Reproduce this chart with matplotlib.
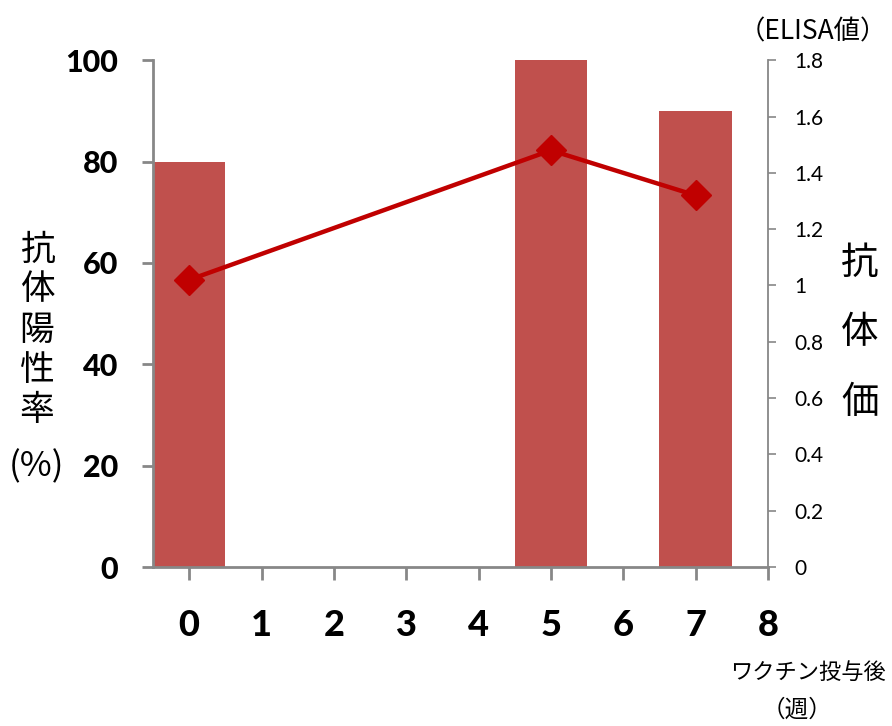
import matplotlib
matplotlib.use("Agg")
import matplotlib.pyplot as plt

# data
weeks = [0, 5, 7]
positive_rate = [80, 100, 90]        # %, bars (left axis)
elisa_value = [1.02, 1.48, 1.32]     # ELISA value, line (right axis)
x_ticks = [0, 1, 2, 3, 4, 5, 6, 7, 8]
left_ticks = [0, 20, 40, 60, 80, 100]
right_ticks = [0, 0.2, 0.4, 0.6, 0.8, 1, 1.2, 1.4, 1.6, 1.8]
right_tick_labels = ["0", "0.2", "0.4", "0.6", "0.8", "1", "1.2", "1.4", "1.6", "1.8"]

jp = ["Noto Sans CJK JP", "DejaVu Sans"]
num = ["Lato", "DejaVu Sans"]
spine_gray = "#878787"

fig = plt.figure(figsize=(8.92, 7.26), dpi=100)
ax = fig.add_axes([0.1715, 0.219, 0.861 - 0.1715, 0.917 - 0.219])

ax.bar(weeks, positive_rate, width=1.0, color="#C0504D", zorder=2)
ax.set_xlim(-0.5, 8)
ax.set_ylim(0, 100)
ax.set_xticks(x_ticks)
ax.set_yticks(left_ticks)
ax.set_xticklabels([str(t) for t in x_ticks], fontfamily=num, fontweight="black", fontsize=26)
ax.set_yticklabels([str(t) for t in left_ticks], fontfamily=num, fontweight="black", fontsize=22)
ax.tick_params(axis="x", direction="out", length=9, width=2, color=spine_gray, pad=21)
ax.tick_params(axis="y", direction="out", length=8, width=2, color=spine_gray, pad=17)

for side in ["top", "right"]:
    ax.spines[side].set_visible(False)
for side in ["left", "bottom"]:
    ax.spines[side].set_color(spine_gray)
    ax.spines[side].set_linewidth(2)

ax2 = ax.twinx()
ax2.plot(weeks, elisa_value, color="#C00000", linewidth=3.2, marker="D", markersize=15, zorder=3)
ax2.set_ylim(0, 1.8)
ax2.set_yticks(right_ticks)
ax2.set_yticklabels(right_tick_labels, fontfamily=num, fontsize=15)
ax2.tick_params(axis="y", direction="out", length=6, width=1.2, color=spine_gray, pad=13)
for side in ["top", "left", "bottom"]:
    ax2.spines[side].set_visible(False)
ax2.spines["right"].set_color(spine_gray)
ax2.spines["right"].set_linewidth(1.3)

# left axis title, stacked vertically
for i, ch in enumerate("抗体陽性率"):
    fig.text(37 / 892, 1 - (250 + i * 40) / 726, ch, fontfamily=jp, fontsize=25,
             ha="center", va="center")
fig.text(37 / 892, 1 - 467 / 726, "(%)", fontfamily=jp, fontsize=25, ha="center", va="center")

# right axis title
for i, ch in enumerate("抗体価"):
    fig.text(860 / 892, 1 - (263 + i * 70) / 726, ch, fontfamily=jp, fontsize=27,
             ha="center", va="center")
fig.text(813 / 892, 1 - 32 / 726, "（ELISA値）", fontfamily=jp, fontsize=19,
         ha="center", va="center")

# x axis title
fig.text(808 / 892, 1 - 672 / 726, "ワクチン投与後", fontfamily=jp, fontsize=16,
         ha="center", va="center")
fig.text(797 / 892, 1 - 710 / 726, "（週）", fontfamily=jp, fontsize=17,
         ha="center", va="center")

fig.savefig("out.png", dpi=100)
